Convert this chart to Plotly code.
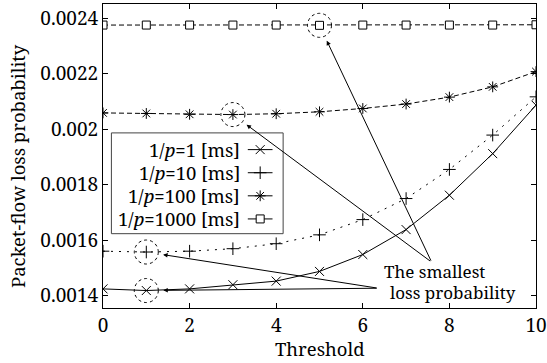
import plotly.graph_objects as go
import numpy as np

threshold = list(range(11))
loss_p1 = [0.001424, 0.001418, 0.001424, 0.001439, 0.001452, 0.001487, 0.001548, 0.001638, 0.001762, 0.001912, 0.002087]
loss_p10 = [0.001560, 0.001557, 0.001560, 0.001569, 0.001587, 0.001619, 0.001674, 0.001750, 0.001855, 0.001979, 0.002117]
loss_p100 = [0.002059, 0.002057, 0.002054, 0.002053, 0.002056, 0.002063, 0.002075, 0.002091, 0.002116, 0.002153, 0.002208]
loss_p1000 = [0.002376, 0.002376, 0.002376, 0.002376, 0.002376, 0.002375, 0.002376, 0.002376, 0.002376, 0.002376, 0.002377]
series_names = ["1/<i>p</i>=1 [ms]", "1/<i>p</i>=10 [ms]", "1/<i>p</i>=100 [ms]", "1/<i>p</i>=1000 [ms]"]
y_tickvals = [0.0014, 0.0016, 0.0018, 0.002, 0.0022, 0.0024]
y_ticktext = ["0.0014", "0.0016", "0.0018", "0.002", "0.0022", "0.0024"]
x_tickvals = [0, 2, 4, 6, 8, 10]

FONT = "Noto Serif"
FS_TICK = 19
FS_LEG = 18.5
FS_TITLE = 18.5
FS_ANN = 17
series = [loss_p1, loss_p10, loss_p100, loss_p1000]
styles = [
    dict(symbol="x-thin-open", size=9, dash="solid", color="black"),
    dict(symbol="cross-thin-open", size=9, dash="2px,6px", color="black"),
    dict(symbol="asterisk-open", size=9, dash="5px,3px", color="black"),
    dict(symbol="square", size=8, dash="5px,3px", color="white"),
]

fig = go.Figure()
for vals, st in zip(series, styles):
    fig.add_trace(go.Scatter(
        x=threshold, y=vals, mode="lines+markers",
        line=dict(color="black", width=1, dash=st["dash"]),
        marker=dict(symbol=st["symbol"], size=st["size"], color=st["color"],
                    line=dict(color="black", width=1)),
        showlegend=False, hoverinfo="skip"))

# custom legend: text right-aligned, key sample on the right (overlay [0,1] axes)
leg_rows_y = [0.521, 0.445, 0.369, 0.293]
for name, st, ly in zip(series_names, styles, leg_rows_y):
    fig.add_trace(go.Scatter(
        x=[0.3344, 0.363, 0.3915], y=[ly, ly, ly], xaxis="x2", yaxis="y2",
        mode="lines", line=dict(color="black", width=1),
        showlegend=False, hoverinfo="skip"))
    fig.add_trace(go.Scatter(
        x=[0.363], y=[ly], xaxis="x2", yaxis="y2", mode="markers",
        marker=dict(symbol=st["symbol"], size=st["size"], color=st["color"],
                    line=dict(color="black", width=1)),
        showlegend=False, hoverinfo="skip"))
    fig.add_annotation(x=0.3199, y=ly, xref="paper", yref="paper", text=name,
                       showarrow=False, xanchor="right", yanchor="middle",
                       font=dict(family=FONT, size=FS_LEG, color="black"))

fig.add_shape(type="rect", xref="paper", yref="paper", x0=0.0194, x1=0.416,
              y0=0.2445, y1=0.576, line=dict(color="#444", width=1),
              fillcolor="rgba(0,0,0,0)", layer="below")

# dotted circles around the minimum of each series, with arrows from the note
tails = [(6.355, 0.0014264), (6.355, 0.0014264), (7.59, 0.0015204), (7.59, 0.0015204)]
for vals, (tx, ty) in zip(series, tails):
    i = int(np.argmin(vals))
    fig.add_shape(type="circle", xref="x", yref="y", xsizemode="pixel", ysizemode="pixel",
                  xanchor=threshold[i], yanchor=vals[i], x0=-12, x1=12, y0=-12, y1=12,
                  line=dict(color="black", width=1, dash="dot"))
    fig.add_annotation(x=threshold[i], y=vals[i], ax=tx, ay=ty, axref="x", ayref="y",
                       xref="x", yref="y", text="", showarrow=True, arrowhead=2,
                       arrowsize=0.9, arrowwidth=1, arrowcolor="black", standoff=17)

fig.add_annotation(x=6.434, y=0.0014868, xref="x", yref="y", text="The smallest",
                   showarrow=False, xanchor="left", yanchor="middle",
                   font=dict(family=FONT, size=FS_ANN, color="black"))
fig.add_annotation(x=6.58, y=0.0014109, xref="x", yref="y", text="loss probability",
                   showarrow=False, xanchor="left", yanchor="middle",
                   font=dict(family=FONT, size=FS_ANN, color="black"))

# axis titles
fig.add_annotation(x=0.5, y=-0.1334, xref="paper", yref="paper", text="Threshold",
                   showarrow=False, xanchor="center", yanchor="middle",
                   font=dict(family=FONT, size=FS_TITLE, color="black"))
fig.add_annotation(x=-0.197, y=0.466, xref="paper", yref="paper",
                   text="Packet-flow loss probability", textangle=-90,
                   showarrow=False, xanchor="center", yanchor="middle",
                   font=dict(family=FONT, size=FS_TITLE, color="black"))

axis_common = dict(showgrid=False, zeroline=False, showline=True, linecolor="black",
                   linewidth=1, mirror="ticks", ticks="inside", ticklen=5,
                   tickcolor="black", tickwidth=1, automargin=False,
                   tickfont=dict(family=FONT, size=FS_TICK, color="black"))
fig.update_layout(
    width=547, height=363,
    margin=dict(l=103, r=11, t=4, b=55),
    paper_bgcolor="white", plot_bgcolor="white",
    font=dict(family=FONT, size=FS_TICK, color="black"),
    xaxis=dict(range=[0, 10], tickvals=x_tickvals, **axis_common),
    yaxis=dict(range=[0.001355, 0.002452], tickvals=y_tickvals, ticktext=y_ticktext, **axis_common),
    xaxis2=dict(range=[0, 1], overlaying="x", visible=False, fixedrange=True),
    yaxis2=dict(range=[0, 1], overlaying="y", visible=False, fixedrange=True),
)
fig.write_html("out.html")
